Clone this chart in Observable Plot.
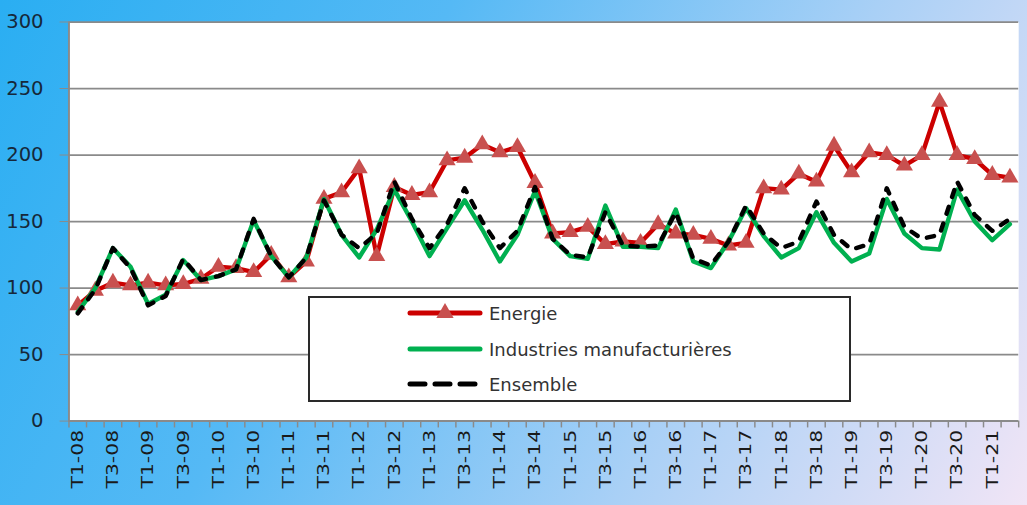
<!DOCTYPE html>
<html>
<head>
<meta charset="utf-8">
<script src="https://cdn.jsdelivr.net/npm/d3@7"></script>
<script src="https://cdn.jsdelivr.net/npm/@observablehq/plot@0.6"></script>
<style>
  html, body { margin: 0; padding: 0; }
  body {
    width: 1027px; height: 505px; overflow: hidden; position: relative;
    background: linear-gradient(118deg, #2aaef2 0%, #55b9f5 35%, #a9d0f6 68%, #f1e5f6 100%);
    font-family: "DejaVu Sans", sans-serif;
  }
  #chart { position: absolute; left: 0; top: 0; }
  #legend {
    position: absolute; left: 308px; top: 296px; width: 539px; height: 102px;
    background: #fff; border: 2px solid #2a2a2a;
  }
  .row { position: absolute; left: 97px; height: 24px; display: flex; align-items: center; }
  .row span { margin-left: 6px; font-size: 18px; color: #333; font-family: "DejaVu Sans", sans-serif; }
</style>
</head>
<body>
<div id="chart"></div>
<div id="legend"></div>
<script>
const quarters = [
  "T1-08","T2-08","T3-08","T4-08","T1-09","T2-09","T3-09","T4-09",
  "T1-10","T2-10","T3-10","T4-10","T1-11","T2-11","T3-11","T4-11",
  "T1-12","T2-12","T3-12","T4-12","T1-13","T2-13","T3-13","T4-13",
  "T1-14","T2-14","T3-14","T4-14","T1-15","T2-15","T3-15","T4-15",
  "T1-16","T2-16","T3-16","T4-16","T1-17","T2-17","T3-17","T4-17",
  "T1-18","T2-18","T3-18","T4-18","T1-19","T2-19","T3-19","T4-19",
  "T1-20","T2-20","T3-20","T4-20","T1-21","T2-21"
];
const energie = [
  87, 98, 104, 102, 104, 102, 103, 107,
  116, 115, 112, 125, 108, 120, 167, 172,
  190, 124, 176, 170, 172, 196, 198, 208,
  202, 206, 179, 141, 142, 146, 133, 135,
  134, 148, 141, 140, 137, 132, 134, 175,
  174, 186, 180, 207, 187, 202, 200, 192,
  200, 240, 200, 197, 185, 183
];
const industries = [
  82, 100, 130, 116, 88, 95, 121, 106,
  109, 114, 151, 124, 108, 123, 167, 140,
  123, 144, 174, 150, 124, 145, 166, 144,
  120, 140, 173, 137, 124, 122, 162, 131,
  131, 130, 159, 120, 115, 135, 160, 139,
  123, 130, 157, 134, 120, 126, 167, 141,
  130, 129, 174, 150, 136, 148
];
const ensemble = [
  81, 99, 130, 115, 87, 94, 122, 106,
  109, 114, 152, 124, 108, 123, 166, 140,
  130, 141, 180, 152, 130, 148, 175, 150,
  130, 143, 176, 137, 125, 123, 157, 132,
  131, 132, 157, 122, 117, 135, 162, 141,
  130, 135, 165, 140, 129, 133, 175, 146,
  137, 140, 180, 155, 143, 152
];
const yTicks = [0, 50, 100, 150, 200, 250, 300];
const seriesNames = ["Energie", "Industries manufacturières", "Ensemble"];
const seriesColors = ["#cc0000", "#00b050", "#000000"];

const idx = quarters.map((q, i) => i);
const labelIdx = idx.filter(i => i % 2 === 0);
const boundaries = quarters.map((q, i) => i - 0.5).concat([quarters.length - 0.5]);
const rows = (vals) => vals.map((v, i) => ({i, v}));
const dE = rows(energie), dI = rows(industries), dS = rows(ensemble);

const plot = Plot.plot({
  width: 1050, height: 505,
  marginLeft: 70, marginRight: 9, marginTop: 22, marginBottom: 75,
  style: {background: "transparent", fontFamily: "DejaVu Sans, sans-serif", overflow: "visible"},
  x: {type: "linear", domain: [-0.5, quarters.length - 0.5], label: null},
  y: {domain: [0, 300], label: null},
  marks: [
    Plot.frame({fill: "white", stroke: "none"}),
    Plot.gridY({ticks: yTicks, stroke: "#8a8a8a", strokeOpacity: 1, strokeWidth: 1.8}),
    Plot.ruleX([-0.5], {stroke: "#8a8a8a", strokeWidth: 2}),
    Plot.ruleY([0], {stroke: "#8a8a8a", strokeWidth: 2}),
    Plot.axisY({ticks: yTicks, tickSize: 9, tickPadding: 17, fontSize: 20, label: null,
      stroke: "#8a8a8a", fill: "#16283a", tickFormat: d => String(d)}),
    Plot.axisX({ticks: boundaries, tickSize: 7, tickFormat: () => "", label: null,
      stroke: "#8a8a8a", strokeWidth: 1.5}),
    Plot.axisX({ticks: labelIdx, tickSize: 0, tickPadding: 9, tickRotate: -90, label: null,
      tickFormat: i => quarters[i], fontSize: 17, fill: "#1a1a1a"}),
    Plot.line(dE, {x: "i", y: "v", stroke: seriesColors[0], strokeWidth: 4.5}),
    Plot.dot(dE, {x: "i", y: "v", symbol: "triangle", r: 6.5, fill: "#c8504f", stroke: "none"}),
    Plot.line(dI, {x: "i", y: "v", stroke: seriesColors[1], strokeWidth: 4.5}),
    Plot.line(dS, {x: "i", y: "v", stroke: seriesColors[2], strokeWidth: 4.5,
      strokeDasharray: "7.5,10.5"})
  ]
});
document.getElementById("chart").appendChild(plot);
plot.querySelectorAll('g[aria-label="x-axis tick label"] text').forEach(t => {
  t.setAttribute("textLength", 60);
  t.setAttribute("lengthAdjust", "spacingAndGlyphs");
});

// legend
const legend = document.getElementById("legend");
const rowTops = [3, 39, 74];
seriesNames.forEach((name, k) => {
  const row = document.createElement("div");
  row.className = "row";
  row.style.top = rowTops[k] + "px";
  const ns = "http://www.w3.org/2000/svg";
  const s = document.createElementNS(ns, "svg");
  s.setAttribute("width", 76); s.setAttribute("height", 24);
  const ln = document.createElementNS(ns, "line");
  ln.setAttribute("x1", 3); ln.setAttribute("x2", 73);
  ln.setAttribute("y1", 12); ln.setAttribute("y2", 12);
  ln.setAttribute("stroke", seriesColors[k]);
  ln.setAttribute("stroke-width", 5);
  ln.setAttribute("stroke-linecap", "round");
  if (k === 2) { ln.setAttribute("stroke-dasharray", "15,10"); }
  s.appendChild(ln);
  if (k === 0) {
    const tri = document.createElementNS(ns, "path");
    tri.setAttribute("d", d3.symbol(d3.symbolTriangle, 130)());
    tri.setAttribute("transform", "translate(38,12)");
    tri.setAttribute("fill", "#c8504f");
    s.appendChild(tri);
  }
  row.appendChild(s);
  const sp = document.createElement("span");
  sp.textContent = name;
  row.appendChild(sp);
  legend.appendChild(row);
});
</script>
</body>
</html>
